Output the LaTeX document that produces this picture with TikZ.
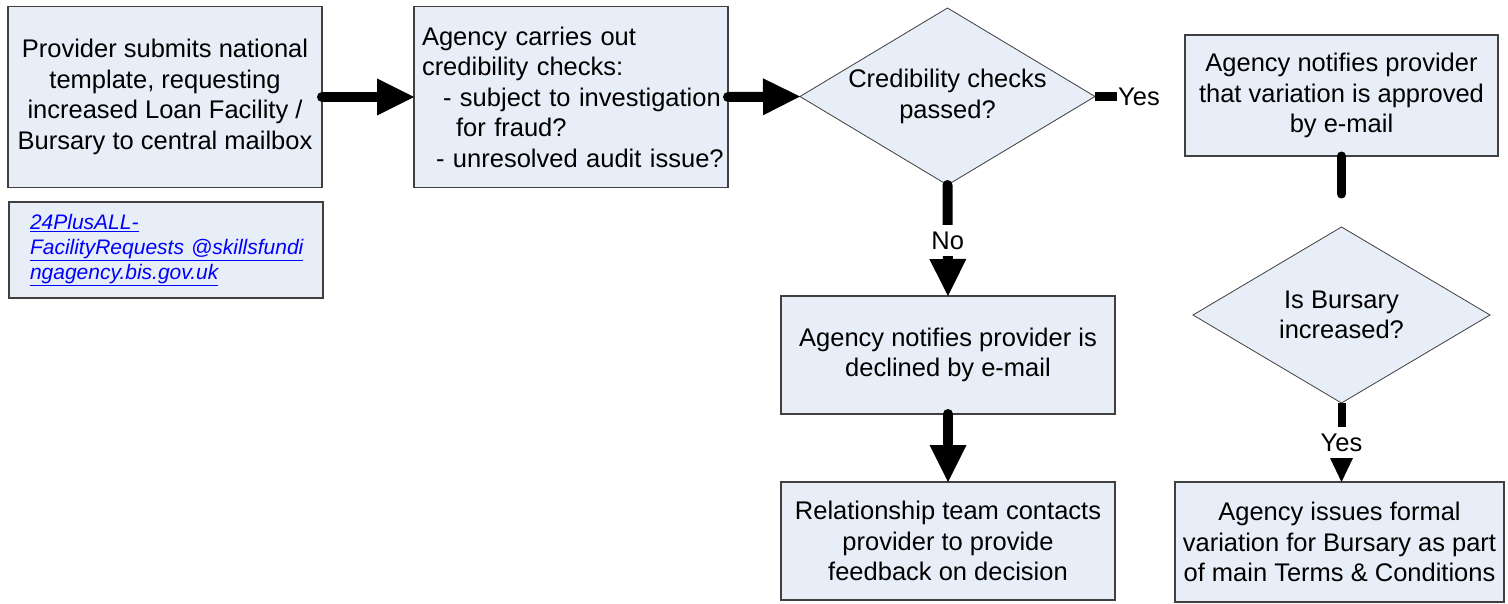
\documentclass[tikz,border=0pt]{standalone}
\usepackage{fontspec}
\setmainfont{Liberation Sans}
\usetikzlibrary{shapes.geometric,arrows.meta,calc}
\definecolor{boxfill}{RGB}{232,238,247}
\definecolor{boxline}{RGB}{64,64,64}
\definecolor{maillink}{RGB}{0,0,255}
\newcommand{\boxfont}{\fontsize{25.5}{30.5}\selectfont}
\newcommand{\mailfont}{\fontsize{21}{25}\selectfont\itshape}
\tikzset{
  procbox/.style={draw=boxline, fill=boxfill, line width=1.3pt, inner sep=0pt, outer sep=0pt, align=center, font=\boxfont},
  decision/.style={diamond, aspect=1.68, draw=boxline, fill=boxfill, line width=0.8pt, inner sep=0pt, outer sep=0pt, align=center, font=\boxfont},
  flow/.style={line width=10pt, line cap=round, -{Triangle[length=37pt,width=37pt,line width=0pt]}},
  smallflow/.style={line width=8pt, -{Triangle[length=24pt,width=23pt,line width=0pt]}},
  stub/.style={line width=9pt},
  lbl/.style={fill=white, font=\boxfont, inner xsep=3pt, inner ysep=7pt}
}

\begin{document}
\begin{tikzpicture}[x=1pt,y=-1pt]
	\useasboundingbox (0,0) rectangle (1508,604);
	%BOXES
	\node[procbox, minimum width=314, minimum height=181] (prov) at (165,97)
		{Provider submits national\\template, requesting\\increased Loan Facility /\\Bursary to central mailbox};
	\node[procbox, minimum width=314, minimum height=96, align=left, text width=272, inner xsep=21pt, font=\mailfont, text=maillink] (mail) at (166,250)
		{\underline{24PlusALL-}\\\underline{FacilityRequests @skillsfundi}\\\underline{ngagency.bis.gov.uk}};
	\node[procbox, minimum width=314, minimum height=181, align=left, text width=298, inner xsep=8pt] (agency) at (571,97)
		{\mbox{Agency carries out}\\\mbox{credibility checks:}\\\hspace*{21pt}\mbox{- subject to investigation}\\\hspace*{34pt}\mbox{for fraud?}\\\hspace*{14pt}\mbox{- unresolved audit issue?}};
	\node[decision, minimum width=295, minimum height=177] (check) at (947.5,96.5) {Credibility checks\\passed?};
	\node[procbox, minimum width=313, minimum height=121] (approved) at (1341.5,95.5)
		{Agency notifies provider\\that variation is approved\\by e-mail};
	\node[decision, minimum width=297, minimum height=176] (bursary) at (1341.5,315) {Is Bursary\\increased?};
	\node[procbox, minimum width=334, minimum height=118] (declined) at (948,355)
		{Agency notifies provider is\\declined by e-mail};
	\node[procbox, minimum width=334, minimum height=118] (feedback) at (948,541)
		{Relationship team contacts\\provider to provide\\feedback on decision};
	\node[procbox, minimum width=329, minimum height=120] (variation) at (1339.5,542)
		{Agency issues formal\\variation for Bursary as part\\of main Terms \& Conditions};
	%CONNECTORS
	\draw[flow] (prov.east) -- (agency.west);
	\draw[flow] (agency.east) -- (check.west);
	\draw[flow] (check.south) -- node[lbl] (nolbl) {No} (declined.north);
	\draw[flow] (declined.south) -- (feedback.north);
	\draw[stub] (check.east) -- ++(22,0) coordinate (yesend);
	\node[anchor=west, font=\boxfont, inner sep=1pt] (yeslbl) at (yesend) {Yes};
	\draw[stub, line cap=round] (approved.south) -- ++(0,38) coordinate (approvedend);
	\draw[smallflow] (bursary.south) -- node[lbl] (yeslbl2) {Yes} (variation.north -| bursary.south);
\end{tikzpicture}
\end{document}
